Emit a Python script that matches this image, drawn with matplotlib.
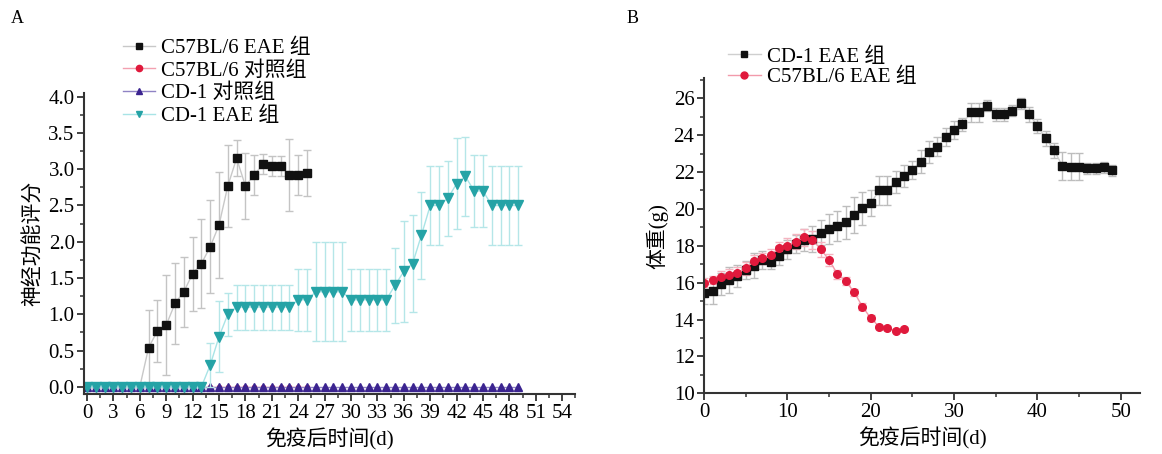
import matplotlib
matplotlib.use("Agg")
import matplotlib.pyplot as plt
import numpy as np
from matplotlib.ticker import MultipleLocator
from matplotlib.lines import Line2D

plt.rcParams["font.family"] = ["Liberation Serif", "Noto Sans CJK SC"]
plt.rcParams["font.size"] = 15

# ---- panel A: neurological score ----
c57_eae_days = list(range(26))
c57_eae_score = [0, 0, 0, 0, 0, 0, 0, 0.54, 0.77, 0.85, 1.15, 1.31, 1.56, 1.70, 1.93,
                 2.23, 2.77, 3.15, 2.77, 2.92, 3.07, 3.04, 3.04, 2.92, 2.92, 2.95]
c57_eae_err = [0, 0, 0, 0, 0, 0, 0, 0.52, 0.43, 0.69, 0.56, 0.48, 0.51, 0.62, 0.64,
               0.73, 0.57, 0.25, 0.45, 0.27, 0.14, 0.14, 0.14, 0.50, 0.27, 0.32]

c57_ctrl_days = list(range(26))
c57_ctrl_score = [0] * 26

cd1_ctrl_days = list(range(50))
cd1_ctrl_score = [0] * 50

cd1_eae_days = list(range(50))
cd1_eae_score = [0] * 14 + [0.30, 0.69, 1.0] + [1.10] * 7 + [1.2, 1.2] + [1.31] * 4 + \
    [1.2] * 5 + [1.40, 1.59, 1.70, 2.09, 2.5, 2.5, 2.6, 2.8, 2.9, 2.7, 2.7, 2.5, 2.5, 2.5, 2.5]
cd1_eae_err = [0] * 14 + [0.30, 0.49, 0.30] + [0.31] * 7 + [0.43, 0.43] + [0.68] * 4 + \
    [0.43] * 5 + [0.52, 0.70, 0.67, 0.60, 0.55, 0.55, 0.52, 0.63, 0.55, 0.49, 0.49,
                  0.55, 0.55, 0.55, 0.55]

labels_a = ["C57BL/6 EAE 组", "C57BL/6 对照组", "CD-1 对照组", "CD-1 EAE 组"]

# ---- panel B: body weight ----
cd1_w_days = list(range(50))
cd1_weight = [15.45, 15.57, 15.93, 16.15, 16.37, 16.69, 16.93, 17.23, 17.14, 17.47,
              17.8, 18.1, 18.3, 18.35, 18.72, 18.9, 19.08, 19.28, 19.67, 20.04,
              20.31, 21.0, 21.0, 21.48, 21.77, 22.12, 22.57, 23.1, 23.38, 23.89,
              24.29, 24.6, 25.23, 25.23, 25.59, 25.14, 25.14, 25.32, 25.73, 25.14,
              24.5, 23.82, 23.18, 22.33, 22.3, 22.3, 22.2, 22.2, 22.25, 22.1]
cd1_weight_err = [0.6, 0.7, 0.6, 0.7, 0.6, 0.5, 0.7, 0.5, 0.4, 0.5,
                  0.5, 0.5, 0.6, 0.7, 0.7, 0.8, 0.8, 0.9, 1.0, 0.9,
                  0.7, 0.8, 0.8, 0.6, 0.6, 0.5, 0.6, 0.6, 0.5, 0.5,
                  0.5, 0.35, 0.5, 0.5, 0.3, 0.35, 0.35, 0.3, 0.3, 0.4,
                  0.4, 0.4, 0.4, 0.75, 0.75, 0.75, 0.3, 0.3, 0.3, 0.3]

c57_w_days = list(range(25))
c57_weight = [16.0, 16.15, 16.33, 16.42, 16.55, 16.78, 17.18, 17.32, 17.5, 17.87,
              18.01, 18.23, 18.45, 18.32, 17.81, 17.23, 16.46, 16.09, 15.48, 14.7,
              14.07, 13.62, 13.53, 13.4, 13.47]
c57_weight_err = [0.25, 0.2, 0.3, 0.3, 0.3, 0.35, 0.3, 0.3, 0.3, 0.35,
                  0.4, 0.4, 0.45, 0.5, 0.4, 0.3, 0.25, 0.2, 0.2, 0.2,
                  0.15, 0.1, 0.1, 0.1, 0.1]

labels_b = ["CD-1 EAE 组", "C57BL/6 EAE 组"]

BLACK, RED, PURPLE, TEAL = "#111111", "#e0193c", "#3b2490", "#25a3a6"


def style_axes(ax):
    for s in ["top", "right"]:
        ax.spines[s].set_visible(False)
    for s in ["left", "bottom"]:
        ax.spines[s].set_linewidth(1.5)
        ax.spines[s].set_color("#333333")
    ax.tick_params(which="major", direction="out", length=5, width=1.3, colors="#333333",
                   labelcolor="black", labelsize=15, pad=2)
    ax.tick_params(which="minor", direction="out", length=3, width=1.1, colors="#333333")


def handle(marker, mcolor, lcolor, ms):
    return Line2D([], [], marker=marker, ms=ms, mfc=mcolor, mec=mcolor,
                  color=lcolor, lw=1)


fig = plt.figure(figsize=(11.62, 4.54), dpi=100)

ax1 = fig.add_axes([0.0726, 0.132, 0.4226, 0.663])
nonzero = [i for i, v in enumerate(c57_eae_score) if v > 0]
ax1.errorbar(c57_eae_days, c57_eae_score, yerr=c57_eae_err, fmt="s", ms=6,
             mfc=BLACK, mec=BLACK, color="#c8c8c8", ecolor="#c4c4c4",
             elinewidth=1, capsize=3, ls="-", lw=1, markevery=nonzero)
ax1.plot(c57_ctrl_days, c57_ctrl_score, marker="o", ms=3, mfc=RED, mec=RED,
         color="#f3a0b0", lw=1)
ax1.plot(cd1_ctrl_days, cd1_ctrl_score, marker="^", ms=6, mfc=PURPLE, mec=PURPLE,
         color="#8f83c4", lw=1)
ax1.errorbar(cd1_eae_days, cd1_eae_score, yerr=cd1_eae_err, fmt="v", ms=7,
             mfc=TEAL, mec=TEAL, color="#a8e4e6", ecolor="#b5e6e8",
             elinewidth=1, capsize=3, ls="-", lw=1)
ax1.set_xlim(-0.3, 55.5)
ax1.set_ylim(-0.1, 4.05)
ax1.xaxis.set_major_locator(MultipleLocator(3))
ax1.xaxis.set_minor_locator(MultipleLocator(1.5))
ax1.yaxis.set_major_locator(MultipleLocator(0.5))
ax1.yaxis.set_minor_locator(MultipleLocator(0.25))
ax1.yaxis.set_major_formatter(plt.FormatStrFormatter("%.1f"))
style_axes(ax1)
ax1.set_xlabel("免疫后时间(d)", fontsize=15, labelpad=4)
ax1.set_ylabel("神经功能评分", fontsize=15, labelpad=3)
handles_a = [handle("s", BLACK, "#c8c8c8", 4.5), handle("o", RED, "#f3a0b0", 4.5),
             handle("^", PURPLE, "#8f83c4", 4.5), handle("v", TEAL, "#a8e4e6", 4.5)]
ax1.legend(handles_a, labels_a, loc="upper left",
           bbox_to_anchor=(0.099, 0.934), bbox_transform=fig.transFigure,
           frameon=False, fontsize=15, handlelength=1.5, handletextpad=0.3,
           labelspacing=0.15, borderaxespad=0)

ax2 = fig.add_axes([0.606, 0.1337, 0.375, 0.6945])
ax2.errorbar(cd1_w_days, cd1_weight, yerr=cd1_weight_err, fmt="s", ms=5.5,
             mfc=BLACK, mec=BLACK, color="#cfcfcf", ecolor="#bdbdbd",
             elinewidth=1, capsize=3, ls="-", lw=1)
ax2.errorbar(c57_w_days, c57_weight, yerr=c57_weight_err, fmt="o", ms=5.5,
             mfc=RED, mec=RED, color="#f29aab", ecolor="#f4b4c0",
             elinewidth=1, capsize=3, ls="-", lw=1)
ax2.set_xlim(0, 52.3)
ax2.set_ylim(10, 27.1)
ax2.xaxis.set_major_locator(MultipleLocator(10))
ax2.xaxis.set_minor_locator(MultipleLocator(5))
ax2.yaxis.set_major_locator(MultipleLocator(2))
ax2.yaxis.set_minor_locator(MultipleLocator(1))
style_axes(ax2)
ax2.set_xlabel("免疫后时间(d)", fontsize=15, labelpad=4)
ax2.set_ylabel("体重(g)", fontsize=15, labelpad=4)
handles_b = [handle("s", BLACK, "#cfcfcf", 4.5), handle("o", RED, "#f29aab", 5)]
ax2.legend(handles_b, labels_b, loc="upper left",
           bbox_to_anchor=(0.619, 0.915), bbox_transform=fig.transFigure,
           frameon=False, fontsize=15, handlelength=1.6, handletextpad=0.3,
           labelspacing=0.05, borderaxespad=0)

fig.text(0.009, 0.96, "A", fontsize=13, va="center")
fig.text(0.539, 0.96, "B", fontsize=13, va="center")

fig.savefig("out.png", dpi=100)
